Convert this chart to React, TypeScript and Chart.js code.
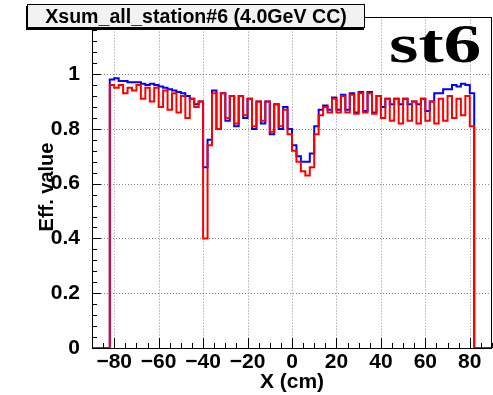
import React, { useEffect, useRef } from "react";
import { Chart, registerables } from "chart.js";

Chart.register(...registerables);

// ---- data (bin width 2 cm, first bin starts at -82 cm) ----
const histStart = -82;
const binWidth = 2;
const axisMin = -90;
const axisMax = 90;

const redValues = [
  0.96, 0.95, 0.96, 0.93, 0.95, 0.94, 0.96, 0.91, 0.95, 0.90,
  0.95, 0.88, 0.94, 0.87, 0.93, 0.86, 0.92, 0.84, 0.91, 0.88,
  0.90, 0.40, 0.74, 0.93, 0.80, 0.93, 0.84, 0.92, 0.82, 0.92,
  0.85, 0.91, 0.81, 0.90, 0.83, 0.90, 0.79, 0.89, 0.81, 0.87,
  0.78, 0.72, 0.68, 0.645, 0.63, 0.66, 0.78, 0.85, 0.88, 0.86,
  0.91, 0.86, 0.92, 0.86, 0.925, 0.855, 0.93, 0.86, 0.93, 0.855,
  0.92, 0.84, 0.91, 0.83, 0.91, 0.82, 0.91, 0.83, 0.90, 0.82,
  0.91, 0.83, 0.90, 0.82, 0.91, 0.83, 0.92, 0.84, 0.91, 0.85,
  0.92, 0.81,
];

const blueValues = [
  0.98, 0.985, 0.975, 0.975, 0.97, 0.97, 0.97, 0.965, 0.96, 0.965,
  0.96, 0.955, 0.95, 0.945, 0.94, 0.935, 0.93, 0.92, 0.91, 0.89,
  0.90, 0.66, 0.76, 0.94, 0.80, 0.93, 0.83, 0.92, 0.81, 0.92,
  0.84, 0.91, 0.80, 0.90, 0.82, 0.90, 0.78, 0.89, 0.80, 0.88,
  0.80, 0.74, 0.70, 0.68, 0.68, 0.71, 0.81, 0.87, 0.885, 0.87,
  0.915, 0.87, 0.925, 0.87, 0.93, 0.86, 0.935, 0.865, 0.935, 0.86,
  0.92, 0.88, 0.91, 0.89, 0.91, 0.89, 0.91, 0.89, 0.90, 0.89,
  0.91, 0.865, 0.90, 0.93, 0.93, 0.945, 0.945, 0.96, 0.955, 0.965,
  0.96, 0.93,
];

const xTickValues = [-80, -60, -40, -20, 0, 20, 40, 60, 80];
const yTickValues = [0, 0.2, 0.4, 0.6, 0.8, 1];
const yMax = 1.21;
const xMinorStep = 5;
const yMinorStep = 0.04;

const titleText = "Xsum_all_station#6 (4.0GeV CC)";
const stationLabel = "st6";
const xAxisTitle = "X (cm)";
const yAxisTitle = "Eff. value";

const SANS = "'Liberation Sans', Arial, Helvetica, sans-serif";
const SERIF = "'Liberation Serif', 'Times New Roman', serif";

// points at bin left edges; stepped 'before' keeps each point's level until the next point
function toSteps(values: number[]) {
  const pts: { x: number; y: number }[] = [{ x: axisMin, y: 0 }];
  values.forEach((v, i) => pts.push({ x: histStart + i * binWidth, y: v }));
  pts.push({ x: histStart + values.length * binWidth, y: 0 });
  pts.push({ x: axisMax, y: 0 });
  return pts;
}

const rootStyle = {
  id: "rootStyle",
  beforeDatasetsDraw(chart: any) {
    const { ctx, chartArea: a, scales } = chart;
    const x = scales.x;
    const y = scales.y;
    ctx.save();
    ctx.strokeStyle = "#8c8c8c";
    ctx.lineWidth = 1;
    ctx.setLineDash([1, 2]);
    ctx.beginPath();
    for (const v of xTickValues) {
      const px = Math.round(x.getPixelForValue(v)) + 0.5;
      ctx.moveTo(px, a.top);
      ctx.lineTo(px, a.bottom);
    }
    for (const v of yTickValues) {
      if (v === 0) continue;
      const py = Math.round(y.getPixelForValue(v)) + 0.5;
      ctx.moveTo(a.left, py);
      ctx.lineTo(a.right, py);
    }
    ctx.stroke();
    ctx.setLineDash([]);
    ctx.restore();
  },
  afterDatasetsDraw(chart: any) {
    const { ctx, chartArea: a, scales } = chart;
    const x = scales.x;
    const y = scales.y;
    ctx.save();
    ctx.strokeStyle = "#000";
    ctx.lineWidth = 1;
    ctx.beginPath();
    const nx = Math.round((axisMax - axisMin) / xMinorStep);
    for (let k = 0; k <= nx; k++) {
      const v = axisMin + k * xMinorStep;
      const major = xTickValues.includes(v);
      const px = Math.round(x.getPixelForValue(v)) + 0.5;
      ctx.moveTo(px, a.bottom);
      ctx.lineTo(px, a.bottom - (major ? 10 : 5));
    }
    const ny = Math.floor(yMax / yMinorStep + 1e-6);
    for (let k = 0; k <= ny; k++) {
      const v = k * yMinorStep;
      const major = Math.abs(v / 0.2 - Math.round(v / 0.2)) < 1e-6;
      const py = Math.round(y.getPixelForValue(v)) + 0.5;
      ctx.moveTo(a.left, py);
      ctx.lineTo(a.left + (major ? 9 : 5), py);
    }
    ctx.stroke();
    ctx.strokeRect(Math.round(a.left) + 0.5, Math.round(a.top) + 0.5, Math.round(a.right - a.left) - 1, Math.round(a.bottom - a.top));
    ctx.restore();
  },
  afterDraw(chart: any) {
    const { ctx, chartArea: a } = chart;
    ctx.save();
    // title box
    const bx = 27, by = 4, bw = 338, bh = 24;
    ctx.fillStyle = "#000";
    ctx.fillRect(bx - 1, by + 2, bw, bh);
    ctx.fillStyle = "#f2f2f2";
    ctx.fillRect(bx, by, bw, bh);
    ctx.strokeStyle = "#000";
    ctx.lineWidth = 1;
    ctx.strokeRect(bx + 0.5, by + 0.5, bw - 1, bh - 1);
    ctx.fillStyle = "#000";
    ctx.font = `bold 19.6px ${SANS}`;
    ctx.textAlign = "center";
    ctx.textBaseline = "alphabetic";
    ctx.fillText(titleText, bx + bw / 2, by + 19);

    // station label (wide bold serif)
    ctx.save();
    ctx.translate(389, 62);
    ctx.scale(1.4, 1);
    ctx.font = `bold 54px ${SERIF}`;
    ctx.textAlign = "left";
    ctx.fillText(stationLabel, 0, 0);
    ctx.restore();

    // x axis title
    ctx.font = `bold 21px ${SANS}`;
    ctx.textAlign = "center";
    ctx.fillText(xAxisTitle, (a.left + a.right) / 2, 388);

    // y axis title
    ctx.translate(53, 187);
    ctx.rotate(-Math.PI / 2);
    ctx.font = `bold 20px ${SANS}`;
    ctx.textAlign = "center";
    ctx.fillText(yAxisTitle, 0, 0);
    ctx.restore();
  },
};

export default function App() {
  const ref = useRef<HTMLCanvasElement | null>(null);
  useEffect(() => {
    if (!ref.current) return;
    const chart = new Chart(ref.current, {
      type: "line",
      data: {
        datasets: [
          {
            label: "red",
            data: toSteps(redValues),
            borderColor: "#ff0000",
            borderWidth: 2,
            stepped: "before",
            pointRadius: 0,
            fill: false,
          },
          {
            label: "blue",
            data: toSteps(blueValues),
            borderColor: "#0000ff",
            borderWidth: 2,
            stepped: "before",
            pointRadius: 0,
            fill: false,
          },
        ],
      },
      options: {
        animation: false,
        responsive: false,
        devicePixelRatio: 1,
        parsing: false,
        layout: { padding: { top: 15, right: 1, left: 0, bottom: 0 } },
        plugins: {
          legend: { display: false },
          tooltip: { enabled: false },
          title: { display: false },
        },
        scales: {
          x: {
            type: "linear",
            min: axisMin,
            max: axisMax,
            grid: { display: false },
            border: { display: false },
            afterBuildTicks: (s: any) => {
              s.ticks = xTickValues.map((v) => ({ value: v }));
            },
            afterFit: (s: any) => {
              s.height = 47;
            },
            ticks: {
              autoSkip: false,
              maxRotation: 0,
              padding: -6,
              color: "#000",
              font: { family: SANS, size: 21, weight: "bold" },
              callback: (v: any) => (v < 0 ? "\u2212" + Math.abs(v) : String(v)),
            },
          },
          y: {
            type: "linear",
            min: 0,
            max: yMax,
            grid: { display: false },
            border: { display: false },
            afterBuildTicks: (s: any) => {
              s.ticks = yTickValues.map((v) => ({ value: v }));
            },
            afterFit: (s: any) => {
              s.width = 92;
            },
            ticks: {
              padding: 4,
              color: "#000",
              font: { family: SANS, size: 21, weight: "bold" },
              callback: (v: any) => String(Math.round(v * 10) / 10),
            },
          },
        },
      },
      plugins: [rootStyle],
    } as any);
    return () => chart.destroy();
  }, []);
  return (
    <div style={{ position: "fixed", left: 0, top: 0, width: 493, height: 395, background: "#fff" }}>
      <canvas ref={ref} width={493} height={395} style={{ display: "block" }} />
    </div>
  );
}
